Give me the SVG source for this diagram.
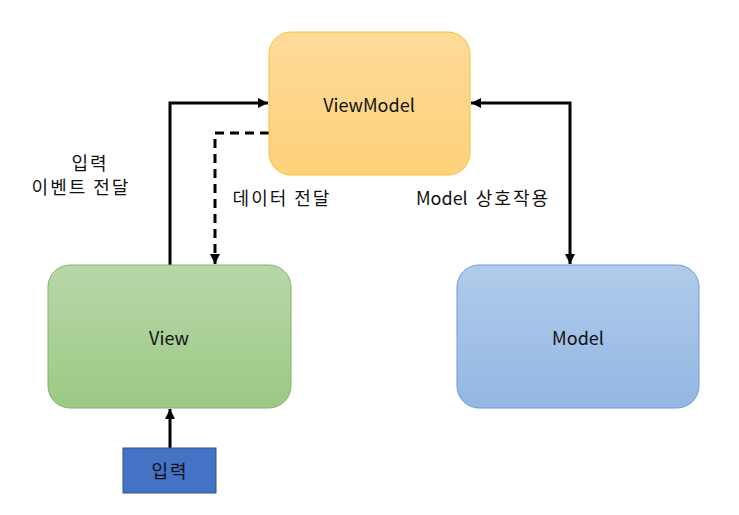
<svg xmlns="http://www.w3.org/2000/svg" width="739" height="515" viewBox="0 0 739 515">
<style>
text{font-family:"Noto Sans CJK KR","Noto Sans",sans-serif;font-size:18px;fill:#111;text-anchor:middle;dominant-baseline:central}
.k{letter-spacing:2px}
.c{fill:none;stroke:#000;stroke-width:3}
</style>
<defs>
<linearGradient id="gy" x1="0" y1="0" x2="0" y2="1"><stop offset="0" stop-color="#fedb9a"/><stop offset="1" stop-color="#fed179"/></linearGradient>
<linearGradient id="gg" x1="0" y1="0" x2="0" y2="1"><stop offset="0" stop-color="#b7d7a8"/><stop offset="1" stop-color="#9cc985"/></linearGradient>
<linearGradient id="gb" x1="0" y1="0" x2="0" y2="1"><stop offset="0" stop-color="#b1cbea"/><stop offset="1" stop-color="#93b7e3"/></linearGradient>
<marker id="ah" viewBox="0 0 10 10" refX="10" refY="5" markerWidth="10" markerHeight="10" markerUnits="userSpaceOnUse" orient="auto-start-reverse"><path d="M0,0 L10,5 L0,10 Z" fill="#000"/></marker>
</defs>
<g id="connectors">
<path class="c" d="M170,265 V103 H268" marker-end="url(#ah)"/>
<path class="c" d="M269,133 H215 V264" stroke-dasharray="9,6" marker-end="url(#ah)"/>
<path class="c" d="M471,103 H570 V264" marker-start="url(#ah)" marker-end="url(#ah)"/>
<path class="c" d="M170,448 V409" marker-end="url(#ah)"/>
</g>
<g id="viewmodel">
<rect x="269" y="32" width="201" height="143" rx="22" fill="url(#gy)" stroke="#f5c135" stroke-width="1"/>
<text x="369" y="104">ViewModel</text>
</g>
<g id="view">
<rect x="48" y="265" width="243" height="143" rx="22" fill="url(#gg)" stroke="#82b366" stroke-width="1"/>
<text x="169" y="337">View</text>
</g>
<g id="model">
<rect x="457" y="265" width="242" height="143" rx="22" fill="url(#gb)" stroke="#6c9bd0" stroke-width="1"/>
<text x="578" y="337">Model</text>
</g>
<g id="input">
<rect x="123" y="448" width="93" height="45" fill="#4472c4" stroke="#2f528f" stroke-width="1"/>
<text class="k" x="170" y="470">입력</text>
</g>
<g id="labels">
<text class="k" x="90" y="162">입력</text>
<text class="k" x="81" y="186">이벤트 전달</text>
<text class="k" x="282" y="197">데이터 전달</text>
<text x="483" y="197">Model <tspan class="k" dx="4">상호작용</tspan></text>
</g>
</svg>
